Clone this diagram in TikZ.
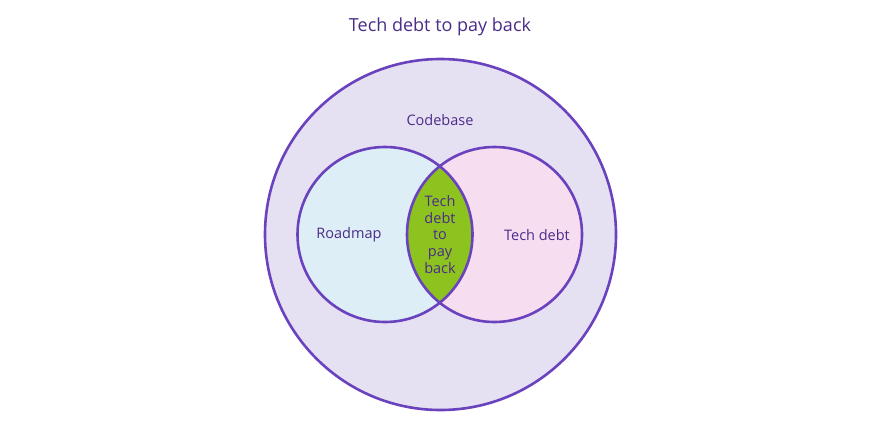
\documentclass[tikz,border=0pt]{standalone}
\usepackage{fontspec}
\setmainfont{Open Sans}

\definecolor{ink}{HTML}{4B2C88}
\definecolor{ring}{HTML}{6A42BE}
\definecolor{codebasefill}{HTML}{E6E0F3}
\definecolor{roadmapfill}{HTML}{DDEEF6}
\definecolor{debtfill}{HTML}{F7DDF0}
\definecolor{lensfill}{HTML}{8DC31F}

\tikzset{
  label text/.style={text=ink, font=\fontsize{14.5}{16.7}\selectfont},
  ring line/.style={draw=ring, line width=2.6pt},
}

\begin{document}
\begin{tikzpicture}[x=1pt, y=-1pt]
    \fill [white] (0,0) rectangle (880,434);
    \useasboundingbox (0,0) rectangle (880,434);

    \coordinate (codebase) at (440.5, 234.5);
    \coordinate (roadmap) at (385, 234.5);
    \coordinate (techdebt) at (494.5, 234.5);

    % the three sets
    \fill [codebasefill] (codebase) circle (175.5pt);
    \fill [roadmapfill] (roadmap) circle (87.5pt);
    \fill [debtfill] (techdebt) circle (87.5pt);

    % overlap of roadmap and tech debt
    \begin{scope}
        \clip (roadmap) circle (87.5pt);
        \fill [lensfill] (techdebt) circle (87.5pt);
    \end{scope}

    \draw [ring line] (codebase) circle (175.5pt);
    \draw [ring line] (roadmap) circle (87.5pt);
    \draw [ring line] (techdebt) circle (87.5pt);

    \node [text=ink, font=\fontsize{18}{21}\selectfont] (title) at (440, 27) {Tech debt to pay back};
    \node [label text] (codebaselabel) at (440, 120) {Codebase};
    \node [label text] (roadmaplabel) at (349, 235) {Roadmap};
    \node [label text] (techdebtlabel) at (537, 235) {Tech debt};
    \node [label text, align=center] (paybacklabel) at (440, 234.5) {Tech\\debt\\to\\pay\\back};

\end{tikzpicture}
\end{document}
